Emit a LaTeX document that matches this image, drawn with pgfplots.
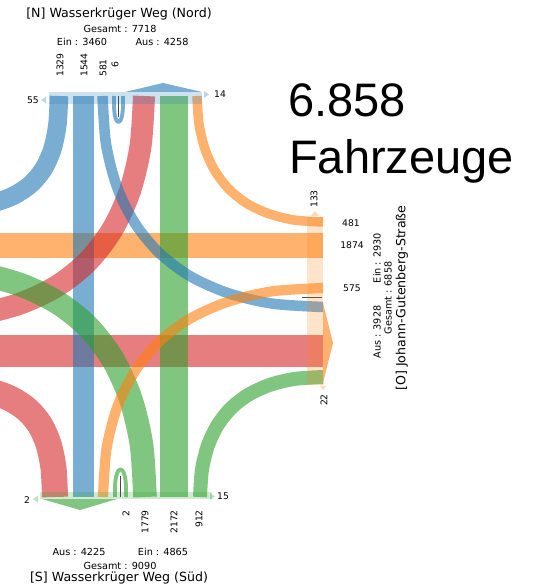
\documentclass[border=0pt]{standalone}
\usepackage{pgfplots}
\pgfplotsset{compat=1.18}
\usepackage{fontspec}
\setmainfont{DejaVu Sans}
\newfontfamily\bigfont{Liberation Sans}
\definecolor{tblue}{RGB}{31,119,180}
\definecolor{torange}{RGB}{255,127,14}
\definecolor{tgreen}{RGB}{44,160,44}
\definecolor{tred}{RGB}{214,39,40}
\begin{document}
\begin{tikzpicture}[
  band/.style={line cap=butt,line join=round,opacity=0.6,smooth},
  strip/.style={draw=none,fill opacity=0.22},
  lab/.style={font=\fontsize{9.2}{10}\selectfont,inner sep=0pt},
  sum/.style={font=\fontsize{9.7}{11}\selectfont,inner sep=0pt},
  ttl/.style={font=\fontsize{12.6}{14}\selectfont,inner sep=0pt}]
\begin{axis}[x=1pt,y=1pt,y dir=reverse,xmin=0,xmax=537,ymin=0,ymax=588,
  hide axis,scale only axis,clip=true,clip bounding box=upper bound]
% frame (invisible) to fix the picture size
\addplot[draw=none] coordinates {(0,0) (537,588)};
% straight bands (horizontal)
\addplot[band,color=torange,line width=25pt] coordinates {(323,245.5) (-80,245.5)};
\addplot[band,color=tred,line width=32pt] coordinates {(-80,350.5) (323,350.5)};
% straight bands (vertical)
\addplot[band,color=tblue,line width=21pt] coordinates {(83.5,96) (83.5,497)};
\addplot[band,color=tgreen,line width=28pt] coordinates {(174,497) (174,96)};
% curved bands
\addplot[band,color=tblue,line width=18.5pt] coordinates {(59,96) (57.4,124.7) (52.3,149.4) (43.3,169.3) (30.1,184.8) (12.3,196.3) (-10.6,204.1) (-38.9,208.6) (-73,210)};
\addplot[band,color=tred,line width=22pt] coordinates {(144,96) (140.5,146.3) (129.9,191.1) (112.5,229.2) (88.4,260.9) (57.6,285.7) (20.3,303.5) (-23.1,314.4) (-73,318)};
\addplot[band,color=tgreen,line width=23.6pt] coordinates {(145,497) (141.5,444.8) (130.8,399.2) (113.4,360.3) (89.2,328.1) (58.2,303.0) (20.7,284.8) (-22.9,273.6) (-73,270)};
\addplot[band,color=tred,line width=26pt] coordinates {(55,497) (53.5,468.1) (48.5,444.0) (39.8,424.6) (27.0,409.5) (9.7,398.3) (-12.5,390.7) (-40.0,386.3) (-73,385)};
\addplot[band,color=tblue,line width=10.5pt] coordinates {(102.5,96) (106.0,143.8) (116.8,186.4) (134.5,222.6) (159.0,252.7) (190.3,276.3) (228.2,293.2) (272.3,303.6) (323,307)};
\addplot[band,color=torange,line width=9.5pt] coordinates {(197,96) (199.0,124.2) (205.2,149.7) (215.3,171.5) (229.3,189.5) (247.1,203.6) (268.8,213.7) (294.0,220.0) (323,222)};
\addplot[band,color=torange,line width=10.2pt] coordinates {(103,497) (106.5,448.9) (117.3,406.9) (134.9,371.2) (159.3,341.5) (190.6,318.3) (228.4,301.6) (272.4,291.3) (323,288)};
\addplot[band,color=tgreen,line width=14pt] coordinates {(200,497) (202.0,469.4) (208.0,445.3) (217.8,424.8) (231.5,407.7) (249.0,394.4) (270.1,384.8) (294.7,378.9) (323,377)};
% u-turns
\addplot[band,color=tblue,line width=3.9pt] coordinates {(114,96) (114,106) (114.8,115) (116.5,120.5) (118.5,122.2) (120.5,120.5) (122.2,115) (123,106) (123,96)};
\addplot[band,color=tgreen,line width=3.9pt] coordinates {(115,497) (115,487) (115.8,478) (117.8,471.5) (120.5,469.5) (123.2,471.5) (125.2,478) (126,487) (126,497)};
\addplot[color=gray!55!black,line width=1pt] coordinates {(118.5,96) (118.5,117)};
\addplot[color=gray!55!black,line width=1pt] coordinates {(120.5,497) (120.5,476)};
\addplot[color=gray!55!black,line width=1pt] coordinates {(302,297) (322,297)};
% strips
\addplot[strip,fill=tblue] coordinates {(49,92) (202,92) (202,104) (49,104)} -- cycle;
\addplot[strip,fill=tgreen] coordinates {(40,492) (212,492) (212,499) (40,499)} -- cycle;
\addplot[strip,fill=torange] coordinates {(307,217) (323,217) (323,385) (307,385)} -- cycle;
% arrows
\addplot[draw=none,fill=tblue,fill opacity=0.6] coordinates {(125,92) (163,83) (202,92)} -- cycle;
\addplot[draw=none,fill=tgreen,fill opacity=0.6] coordinates {(42,499) (117,499) (80,510)} -- cycle;
\addplot[draw=none,fill=torange,fill opacity=0.6] coordinates {(323,303) (333,343) (323,383)} -- cycle;
\addplot[draw=none,fill=tblue,fill opacity=0.3] coordinates {(46,96.5) (46,103.5) (41,100)} -- cycle;
\addplot[draw=none,fill=tblue,fill opacity=0.3] coordinates {(204,91) (204,98) (209,94.5)} -- cycle;
\addplot[draw=none,fill=tgreen,fill opacity=0.3] coordinates {(38,495.5) (38,502.5) (33,499)} -- cycle;
\addplot[draw=none,fill=tgreen,fill opacity=0.3] coordinates {(210,493) (210,500) (215,496.5)} -- cycle;
\addplot[draw=none,fill=torange,fill opacity=0.3] coordinates {(311,216) (319,216) (315,211)} -- cycle;
\addplot[draw=none,fill=torange,fill opacity=0.3] coordinates {(320,385.5) (326,385.5) (323,390)} -- cycle;
% texts north
\node[ttl] at (119,14) {[N] Wasserkrüger Weg (Nord)};
\node[sum] at (120,29) {Gesamt : 7718};
\node[sum] at (82,42) {Ein : 3460};
\node[sum] at (162,42) {Aus : 4258};
\node[lab,rotate=90,anchor=west] at (60,77) {1329};
\node[lab,rotate=90,anchor=west] at (84,77) {1544};
\node[lab,rotate=90,anchor=west] at (103,77) {581};
\node[lab,rotate=90] at (115,65) {6};
\node[lab] at (33,100) {55};
\node[lab] at (220,94) {14};
% texts south
\node[lab,rotate=90,anchor=east] at (126,510) {2};
\node[lab,rotate=90,anchor=east] at (145,510) {1779};
\node[lab,rotate=90,anchor=east] at (174,510) {2172};
\node[lab,rotate=90,anchor=east] at (199,510) {912};
\node[lab] at (27,500) {2};
\node[lab] at (223,496) {15};
\node[sum] at (79,552) {Aus : 4225};
\node[sum] at (163,552) {Ein : 4865};
\node[sum] at (120,566) {Gesamt : 9090};
\node[ttl] at (119,578) {[S] Wasserkrüger Weg (Süd)};
% texts east
\node[lab] at (351,223) {481};
\node[lab] at (352,245) {1874};
\node[lab] at (352,288) {575};
\node[lab,rotate=90] at (314,199) {133};
\node[lab,rotate=90] at (324,400) {22};
\node[sum,rotate=90] at (377,258) {Ein : 2930};
\node[sum,rotate=90] at (388,298) {Gesamt : 6858};
\node[sum,rotate=90] at (377,332) {Aus : 3928};
\node[ttl,rotate=90] at (402,298) {[O] Johann-Gutenberg-Straße};
% big total
\node[anchor=base west,inner sep=0pt,font=\bigfont\fontsize{47}{50}\selectfont] at (288,117) {6.858};
\node[anchor=base west,inner sep=0pt,font=\bigfont\fontsize{47}{50}\selectfont] at (289,173) {Fahrzeuge};
\end{axis}
\end{tikzpicture}
\end{document}
